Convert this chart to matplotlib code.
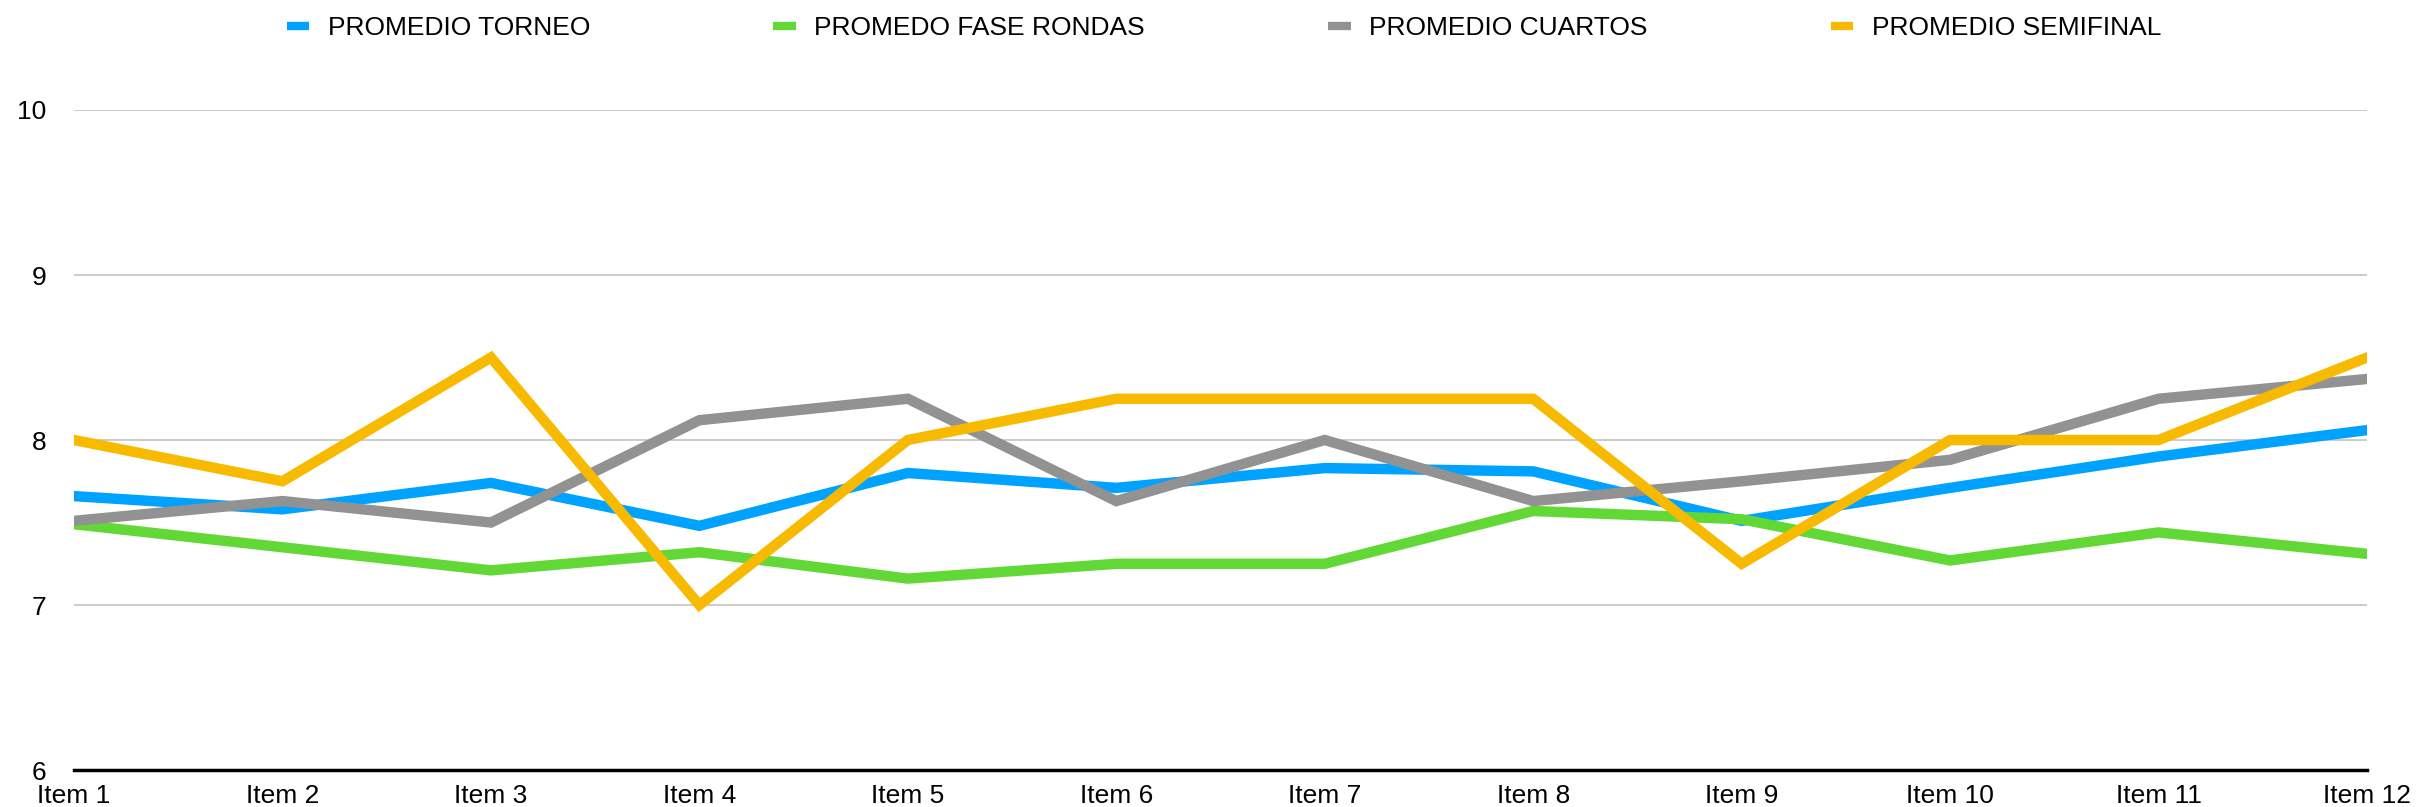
import numpy as np
import matplotlib
matplotlib.use('Agg')
import matplotlib.pyplot as plt

plt.rcParams['font.family'] = ['Liberation Sans', 'DejaVu Sans']

items = ['Item 1', 'Item 2', 'Item 3', 'Item 4', 'Item 5', 'Item 6',
         'Item 7', 'Item 8', 'Item 9', 'Item 10', 'Item 11', 'Item 12']

torneo = [7.66, 7.58, 7.74, 7.48, 7.80, 7.71, 7.83, 7.81, 7.51, 7.71, 7.90, 8.06]
fase_rondas = [7.49, 7.35, 7.21, 7.32, 7.16, 7.25, 7.25, 7.57, 7.52, 7.27, 7.44, 7.31]
cuartos = [7.51, 7.63, 7.50, 8.12, 8.25, 7.63, 8.00, 7.63, 7.75, 7.88, 8.25, 8.37]
semifinal = [8.00, 7.75, 8.50, 7.00, 8.00, 8.25, 8.25, 8.25, 7.25, 8.00, 8.00, 8.50]

series = [
    ('PROMEDIO TORNEO', torneo, '#00A2FF'),
    ('PROMEDO FASE RONDAS', fase_rondas, '#61D836'),
    ('PROMEDIO CUARTOS', cuartos, '#929292'),
    ('PROMEDIO SEMIFINAL', semifinal, '#F8BA00'),
]

fig = plt.figure(figsize=(24.19, 8.07), dpi=100)
ax = fig.add_axes([0.0306, 0.0458, 0.9479, 0.8179])

x = np.arange(len(items))
for name, vals, col in series:
    ax.plot(x, vals, color=col, lw=7.5, label=name, solid_joinstyle='miter')

ax.set_xlim(0, len(items) - 1)
ax.set_ylim(6, 10)
ax.set_yticks([6, 7, 8, 9, 10])
ax.set_xticks(x)
ax.set_xticklabels(items)

ax.grid(axis='y', color='#C8C8C8', lw=1.3)
ax.set_axisbelow(True)
for s in ['top', 'right', 'left']:
    ax.spines[s].set_visible(False)
ax.spines['bottom'].set_color('black')
ax.spines['bottom'].set_linewidth(2.5)
ax.spines['bottom'].set_zorder(5)
ax.tick_params(axis='both', length=0, labelsize=19)
ax.tick_params(axis='y', pad=20)
ax.tick_params(axis='x', pad=10)

leg = fig.legend(loc='center', bbox_to_anchor=(0.506, 1 - 28 / 807), ncol=4,
                 frameon=False, fontsize=19, handlelength=0.85, handletextpad=0.7,
                 columnspacing=6.95)
for h in leg.get_lines():
    h.set_linewidth(6)
    h.set_solid_capstyle('butt')

fig.savefig('out.png', dpi=100)
